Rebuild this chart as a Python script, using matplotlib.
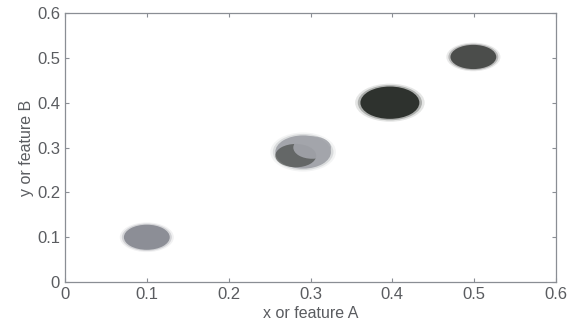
import matplotlib
matplotlib.use("Agg")
import matplotlib.pyplot as plt
from matplotlib.patches import Ellipse

# cluster centres and extents (data units)
centre_x = [0.100, 0.291, 0.397, 0.499]
centre_y = [0.100, 0.290, 0.400, 0.502]
width_x = [0.056, 0.068, 0.072, 0.056]
height_y = [0.056, 0.074, 0.072, 0.054]
colours = ["#8c8e96", "#a3a5ab", "#2e322e", "#4b4d4b"]

# darker part in the lower-left of the second cluster
shade_x = [0.282]
shade_y = [0.282]
shade_w = [0.050]
shade_h = [0.052]
shade_colours = ["#4a4d4a"]

ticks = [0, 0.1, 0.2, 0.3, 0.4, 0.5, 0.6]
tick_labels = ["0", "0.1", "0.2", "0.3", "0.4", "0.5", "0.6"]

plt.rcParams["font.family"] = ["Liberation Sans", "DejaVu Sans"]

fig = plt.figure(figsize=(5.75, 3.25), dpi=100)
ax = fig.add_axes([0.113, 0.132, 0.854, 0.828])

for x, y, w, h, c in zip(centre_x, centre_y, width_x, height_y, colours):
    # fuzzy rim, then the dense core
    for scale, alpha in [(1.18, 0.12), (1.09, 0.3)]:
        ax.add_patch(Ellipse((x, y), w * scale, h * scale, facecolor=c,
                             alpha=alpha, edgecolor="none"))
    ax.add_patch(Ellipse((x, y), w, h, facecolor=c, edgecolor="none"))

for x, y, w, h, c in zip(shade_x, shade_y, shade_w, shade_h, shade_colours):
    ax.add_patch(Ellipse((x, y), w, h, facecolor=c, alpha=0.7, edgecolor="none"))

# lighter upper-right part of cluster 2 over the shade
ax.add_patch(Ellipse((0.302, 0.300), 0.046, 0.050, facecolor=colours[1],
                     alpha=0.9, edgecolor="none"))

ax.set_xlim(0, 0.6)
ax.set_ylim(0, 0.6)
ax.set_xticks(ticks)
ax.set_xticklabels(tick_labels)
ax.set_yticks(ticks)
ax.set_yticklabels(tick_labels)
ax.tick_params(direction="in", length=3, width=0.8, colors="#8a8e94",
               labelcolor="#5a5c60", labelsize=12, top=True, right=True)
for spine in ax.spines.values():
    spine.set_color("#8a8e94")
    spine.set_linewidth(0.9)

ax.set_xlabel("x or feature A", fontsize=11.5, color="#5a5c60", labelpad=3)
ax.set_ylabel("y or feature B", fontsize=11.5, color="#5a5c60", labelpad=2)

fig.savefig("out.png", dpi=100)
